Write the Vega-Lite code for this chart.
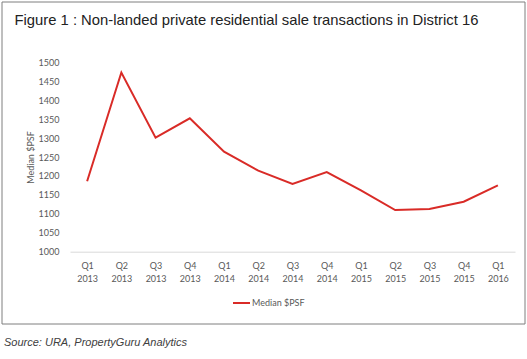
{
  "$schema": "https://vega.github.io/schema/vega-lite/v6.json",
  "width": 523,
  "height": 322,
  "autosize": "none",
  "padding": {"left": 1.5, "top": 1.5, "right": 2.5, "bottom": 35.5},
  "background": "white",
  "config": {
    "view": {"stroke": "#7f7f7f", "strokeWidth": 1, "fill": "white"},
    "font": "Lato"
  },
  "data": {
    "values": [
      {"quarter": "Q1 2013", "psf": 1186, "series": "Median $PSF"},
      {"quarter": "Q2 2013", "psf": 1473, "series": "Median $PSF"},
      {"quarter": "Q3 2013", "psf": 1301, "series": "Median $PSF"},
      {"quarter": "Q4 2013", "psf": 1352, "series": "Median $PSF"},
      {"quarter": "Q1 2014", "psf": 1264, "series": "Median $PSF"},
      {"quarter": "Q2 2014", "psf": 1214, "series": "Median $PSF"},
      {"quarter": "Q3 2014", "psf": 1179, "series": "Median $PSF"},
      {"quarter": "Q4 2014", "psf": 1210, "series": "Median $PSF"},
      {"quarter": "Q1 2015", "psf": 1162, "series": "Median $PSF"},
      {"quarter": "Q2 2015", "psf": 1110, "series": "Median $PSF"},
      {"quarter": "Q3 2015", "psf": 1113, "series": "Median $PSF"},
      {"quarter": "Q4 2015", "psf": 1132, "series": "Median $PSF"},
      {"quarter": "Q1 2016", "psf": 1175, "series": "Median $PSF"}
    ]
  },
  "layer": [
    {
      "mark": {"type": "line", "strokeWidth": 2, "clip": false},
      "encoding": {
        "x": {
          "field": "quarter",
          "type": "ordinal",
          "sort": null,
          "scale": {"type": "point", "range": [68.5, 513.5], "padding": 0.5},
          "axis": {
            "orient": "bottom",
            "offset": -71.8,
            "domain": true,
            "domainColor": "#d9d9d9",
            "domainWidth": 1,
            "ticks": false,
            "tickSize": 0,
            "grid": false,
            "labelAngle": 0,
            "labelExpr": "split(datum.label, ' ')",
            "labelFont": "Lato",
            "labelFontSize": 9,
            "labelColor": "#595959",
            "labelPadding": 10,
            "labelBaseline": "top",
            "labelLineHeight": 13,
            "title": "Source: URA, PropertyGuru Analytics",
            "titleFont": "Liberation Sans",
            "titleFontStyle": "italic",
            "titleFontWeight": "normal",
            "titleFontSize": 11,
            "titleColor": "#404040",
            "titleAlign": "left",
            "titleAnchor": "start",
            "titleBaseline": "alphabetic",
            "titleX": 2,
            "titleY": 94
          }
        },
        "y": {
          "field": "psf",
          "type": "quantitative",
          "scale": {"domain": [1000, 1500], "range": [250.2, 60.8], "zero": false, "nice": false},
          "axis": {
            "values": [1000, 1050, 1100, 1150, 1200, 1250, 1300, 1350, 1400, 1450, 1500],
            "format": "d",
            "offset": -57.5,
            "domain": false,
            "ticks": false,
            "tickSize": 0,
            "grid": false,
            "labelPadding": 0,
            "labelFont": "Lato",
            "labelFontSize": 9,
            "labelColor": "#595959",
            "title": "Median $PSF",
            "titleFont": "Lato",
            "titleFontSize": 9,
            "titleFontWeight": "normal",
            "titleColor": "#595959",
            "titleAngle": -90,
            "titleAlign": "center",
            "titleBaseline": "middle",
            "titleX": -29,
            "titleY": 155.5
          }
        },
        "color": {
          "field": "series",
          "type": "nominal",
          "scale": {"range": ["#d92b27"]},
          "legend": {
            "orient": "none",
            "legendX": 230.5,
            "legendY": 292,
            "title": null,
            "padding": 0,
            "symbolType": "stroke",
            "symbolSize": 289,
            "symbolStrokeWidth": 2,
            "labelOffset": 1,
            "labelFont": "Lato",
            "labelFontSize": 9,
            "labelColor": "#595959"
          }
        }
      }
    },
    {
      "mark": {"type": "point", "opacity": 0},
      "encoding": {
        "x": {
          "field": "quarter",
          "type": "ordinal",
          "sort": null,
          "axis": {
            "orient": "top",
            "domain": false,
            "ticks": false,
            "labels": false,
            "grid": false,
            "title": "Figure 1 : Non-landed private residential sale transactions in District 16",
            "titleFont": "Liberation Sans",
            "titleFontSize": 14.8,
            "titleFontWeight": "normal",
            "titleColor": "#222222",
            "titleAlign": "left",
            "titleAnchor": "start",
            "titleBaseline": "alphabetic",
            "titleX": 12.5,
            "titleY": 22.5
          }
        }
      }
    }
  ]
}
